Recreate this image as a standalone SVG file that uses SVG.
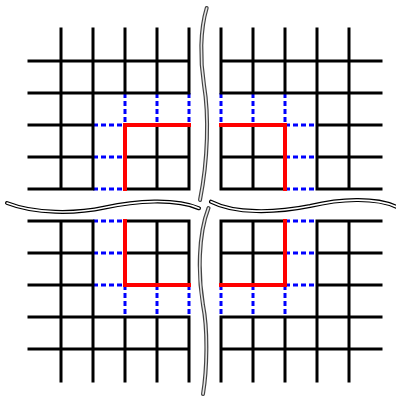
<svg xmlns="http://www.w3.org/2000/svg" width="396" height="396" viewBox="0 0 396 396">
<style>
.blk{stroke:#000;stroke-width:3;fill:none;stroke-linecap:square}
.dash{stroke:#0000ff;stroke-width:3;fill:none;stroke-dasharray:5 3;stroke-linecap:butt}
.red{stroke:#ff0000;stroke-width:4;fill:none;stroke-linecap:square}
.wo{stroke:#000;stroke-width:4;fill:none;stroke-linecap:round}
.wi{stroke:#fff;stroke-width:1.6;fill:none;stroke-linecap:round}
.vo{stroke:#444;stroke-width:4;fill:none;stroke-linecap:round}
.vi{stroke:#e6e6e6;stroke-width:1.6;fill:none;stroke-linecap:round}
</style>
<rect width="396" height="396" fill="#fff"/>
<g id="quadrant-top-left">
<path class="dash" d="M93,125H125M93,157H125M93,189H125M125,93V125M157,93V125M189,93V125"/>
<path class="blk" d="M29,61H189M29,93H189M29,125H93M29,157H93M125,157H189M29,189H93M125,189H189M61,29V189M93,29V189M125,29V93M157,29V93M157,125V189M189,29V93M189,125V189"/>
<path class="red" d="M125,125H189M125,125V189"/>
</g>
<g id="quadrant-top-right">
<path class="dash" d="M285,125H317M285,157H317M285,189H317M285,93V125M253,93V125M221,93V125"/>
<path class="blk" d="M221,61H381M221,93H381M317,125H381M221,157H285M317,157H381M221,189H285M317,189H381M349,29V189M317,29V189M285,29V93M253,29V93M253,125V189M221,29V93M221,125V189"/>
<path class="red" d="M221,125H285M285,125V189"/>
</g>
<g id="quadrant-bottom-left">
<path class="dash" d="M93,285H125M93,253H125M93,221H125M125,285V317M157,285V317M189,285V317"/>
<path class="blk" d="M29,349H189M29,317H189M29,285H93M29,253H93M125,253H189M29,221H93M125,221H189M61,221V381M93,221V381M125,317V381M157,221V285M157,317V381M189,221V285M189,317V381"/>
<path class="red" d="M125,285H189M125,221V285"/>
</g>
<g id="quadrant-bottom-right">
<path class="dash" d="M285,285H317M285,253H317M285,221H317M285,285V317M253,285V317M221,285V317"/>
<path class="blk" d="M221,349H381M221,317H381M317,285H381M221,253H285M317,253H381M221,221H285M317,221H381M349,221V381M317,221V381M285,317V381M253,221V285M253,317V381M221,221V285M221,317V381"/>
<path class="red" d="M221,285H285M285,221V285"/>
</g>
<g id="connectors">
<path class="wo" d="M7,203C35,214 75,214 105,207.5C135,201 175,198 199,208.3"/>
<path class="wi" d="M7,203C35,214 75,214 105,207.5C135,201 175,198 199,208.3"/>
<path class="wo" d="M211,201.7C235,214 275,213 310,206C340,199 375,197 396,206.7"/>
<path class="wi" d="M211,201.7C235,214 275,213 310,206C340,199 375,197 396,206.7"/>
<path class="vo" d="M206.7,8C200,30 200,60 204,85C209,115 208,160 200,200"/>
<path class="vi" d="M206.7,8C200,30 200,60 204,85C209,115 208,160 200,200"/>
<path class="vo" d="M208.5,208C198,235 198,275 203,305C208,330 207,370 203,394"/>
<path class="vi" d="M208.5,208C198,235 198,275 203,305C208,330 207,370 203,394"/>
</g>
</svg>
